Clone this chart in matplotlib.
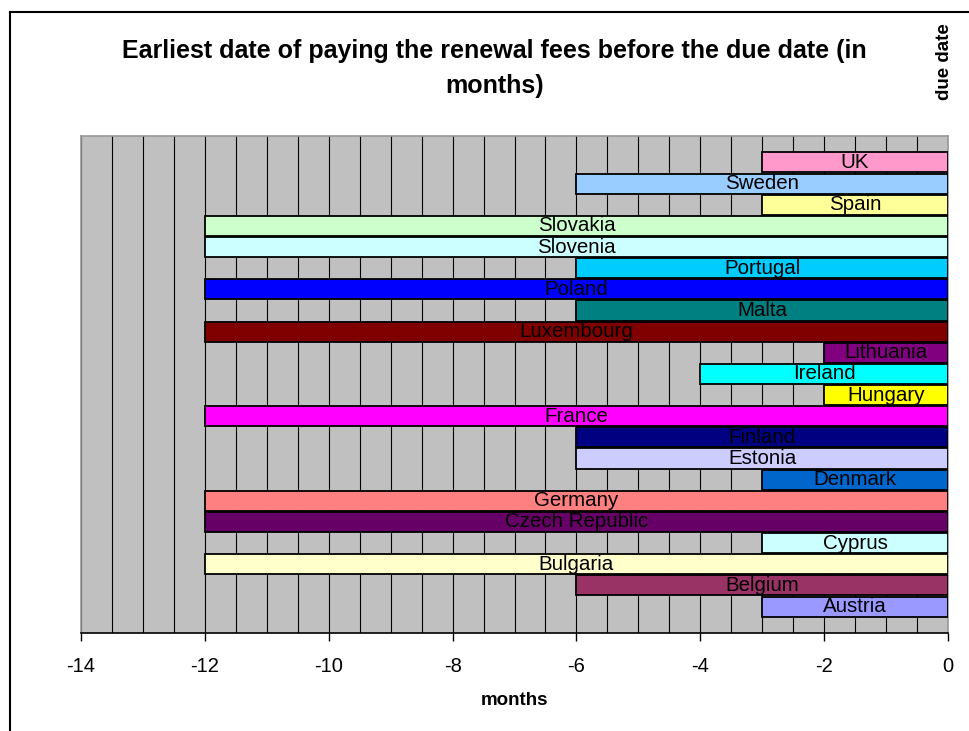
import matplotlib
matplotlib.use("Agg")
import matplotlib.pyplot as plt
from matplotlib.lines import Line2D
from matplotlib.ticker import MultipleLocator

plt.rcParams['font.family'] = ['Liberation Sans', 'DejaVu Sans']

countries = ["Austria", "Belgium", "Bulgaria", "Cyprus", "Czech Republic", "Germany",
             "Denmark", "Estonia", "Finland", "France", "Hungary", "Ireland", "Lithuania",
             "Luxembourg", "Malta", "Poland", "Portugal", "Slovenia", "Slovakia", "Spain",
             "Sweden", "UK"]
months = [-3, -6, -12, -3, -12, -12, -3, -6, -6, -12, -2, -4, -2, -12, -6, -12, -6,
          -12, -12, -3, -6, -3]
colors = ["#9999FF", "#993366", "#FFFFCC", "#CCFFFF", "#660066", "#FF8080", "#0066CC",
          "#CCCCFF", "#000080", "#FF00FF", "#FFFF00", "#00FFFF", "#800080", "#800000",
          "#008080", "#0000FF", "#00CCFF", "#CCFFFF", "#CCFFCC", "#FFFF99", "#99CCFF",
          "#FF99CC"]
xticks = [-14, -12, -10, -8, -6, -4, -2, 0]

fig = plt.figure(figsize=(9.70, 7.31), dpi=100)
ax = fig.add_axes([81/970, 1-633/731, (948-81)/970, (633-136)/731])
ax.set_facecolor("#C0C0C0")

ypos = list(range(len(countries)))
ax.barh(ypos, months, height=0.95, color=colors, edgecolor="black", linewidth=1.3, zorder=3)
for y, v, name in zip(ypos, months, countries):
    ax.text(v / 2, y, name, ha="center", va="center", fontsize=14.8, color="black", zorder=4)

ax.set_xlim(-14, 0)
ax.set_ylim(-1.25, 22.25)
ax.set_xticks(xticks)
ax.set_xticklabels([str(t) for t in xticks], fontsize=14.5)
ax.xaxis.set_minor_locator(MultipleLocator(0.5))
ax.grid(axis="x", which="both", color="black", linewidth=0.8, zorder=1)
ax.set_axisbelow(True)
ax.set_yticks([])
ax.tick_params(axis="x", which="major", direction="out", length=6, width=1, pad=11)
ax.tick_params(axis="x", which="minor", length=0)
for s in ["top", "left", "right"]:
    ax.spines[s].set_color("#999999")
    ax.spines[s].set_linewidth(1.2)
ax.spines["bottom"].set_color("black")
ax.spines["bottom"].set_linewidth(1.2)

ax.set_xlabel("months", fontsize=13.5, fontweight="bold", labelpad=12)

fig.text(0.510, 1-51/731, "Earliest date of paying the renewal fees before the due date (in",
         ha="center", va="center", fontsize=18, fontweight="bold")
fig.text(0.510, 1-86/731, "months)", ha="center", va="center", fontsize=18, fontweight="bold")
fig.text(945/970, 1-62/731, "due date", ha="center", va="center", rotation=90,
         fontsize=13.5, fontweight="bold")

# outer chart frame (clipped by figure edge)
fig.add_artist(Line2D([10/970, 10/970], [0, 1-12/731], color="black", linewidth=1.5,
                      transform=fig.transFigure))
fig.add_artist(Line2D([10/970, 1], [1-12/731, 1-12/731], color="black", linewidth=1.5,
                      transform=fig.transFigure))

fig.savefig("out.png", dpi=100)
